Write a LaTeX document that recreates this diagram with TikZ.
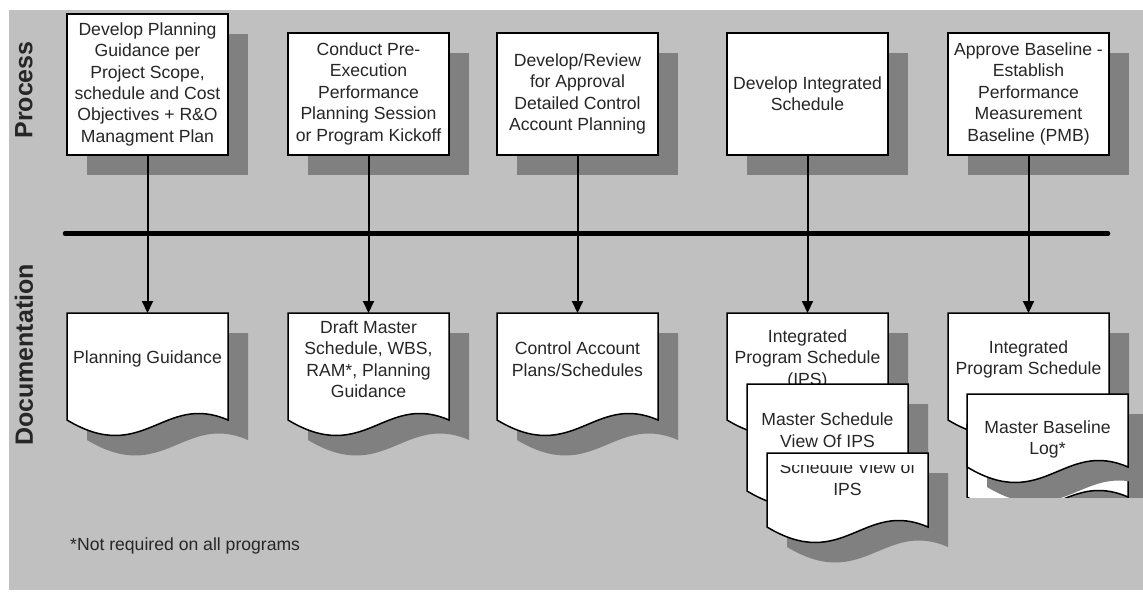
\documentclass[tikz,border=0pt]{standalone}
\usepackage{fontspec}
\setmainfont{Liberation Sans}
\usetikzlibrary{shadows,arrows.meta}

\definecolor{panelgray}{HTML}{C0C0C0}
\definecolor{shadowgray}{HTML}{808080}
\definecolor{inkgray}{HTML}{262626}

\tikzset{
  lbl/.style={font=\fontsize{17.6}{21.4}\selectfont, text=inkgray, align=center},
  procbox/.style={lbl, draw=black, line width=1.5pt, fill=white,
    minimum width=161pt, minimum height=122pt, inner sep=2pt, anchor=north,
    general shadow={fill=shadowgray, shadow xshift=20pt, shadow yshift=-20pt}},
  doctext/.style={lbl, minimum width=161pt, inner sep=2pt, anchor=north},
  sheetbody/.style={fill=white, draw=black, line width=1.5pt},
  flow/.style={draw=black, line width=2pt, -{Triangle[length=12pt,width=11pt]}},
  busline/.style={draw=black, line width=4.5pt, line cap=round},
  lane/.style={font=\fontsize{25}{30}\selectfont\bfseries, rotate=90, text=inkgray},
}

% document sheet with wavy lower edge: left x, top y, depth of the side edges
\newcommand\docsheet[3]{%
  \fill[shadowgray] ({#1+20},{#2+20}) -- ({#1+181},{#2+20}) -- ({#1+181},{#2+#3+20})
    .. controls ({#1+116.6},{#2+#3-8}) and ({#1+96.5},{#2+#3+66}) .. ({#1+20},{#2+#3+20}) -- cycle;
  \filldraw[sheetbody] ({#1},{#2}) -- ({#1+161},{#2}) -- ({#1+161},{#2+#3})
    .. controls ({#1+96.6},{#2+#3-28}) and ({#1+76.5},{#2+#3+46}) .. ({#1},{#2+#3}) -- cycle;}

\begin{document}
\begin{tikzpicture}[x=1pt,y=-1pt]
\useasboundingbox (0,0) rectangle (1143,592);
\fill[panelgray] (9,10) rectangle (1143,590);

% lane titles
\node[lane] (laneP) at (24,90) {Process};
\node[lane] (laneD) at (24,355) {Documentation};

% dividing bus between the lanes
\coordinate (busL) at (65,233.5);
\coordinate (busR) at (1108,233.5);
\draw[busline] (busL) -- (busR);

% process steps
\node[procbox, minimum height=141pt] (p1) at (147.5,13)
  {Develop Planning\\Guidance per\\Project Scope,\\schedule and Cost\\Objectives + R\&O\\Managment Plan};
\node[procbox] (p2) at (368.5,32)
  {Conduct Pre-\\Execution\\Performance\\Planning Session\\or Program Kickoff};
\node[procbox] (p3) at (577.5,32)
  {Develop/Review\\for Approval\\Detailed Control\\Account Planning};
\node[procbox] (p4) at (807.5,32)
  {Develop Integrated\\Schedule};
\node[procbox] (p5) at (1028.5,32)
  {Approve Baseline -\\Establish\\Performance\\Measurement\\Baseline (PMB)};

% documentation
\docsheet{67}{313}{107}
\node[doctext, minimum height=92pt] (d1) at (147.5,313) {Planning Guidance};
\docsheet{288}{313}{107}
\node[doctext, minimum height=92pt] (d2) at (368.5,313)
  {Draft Master\\Schedule, WBS,\\RAM*, Planning\\Guidance};
\docsheet{497}{313}{107}
\node[doctext, minimum height=92pt] (d3) at (577.5,313)
  {Control Account\\Plans/Schedules};

% integrated schedule stack
\docsheet{727}{313}{107}
\node[doctext, minimum height=92pt] (d4) at (807.5,313)
  {Integrated\\Program Schedule\\(IPS)};
\docsheet{747}{384}{107}
\node[doctext, minimum height=92pt] (d4b) at (827.5,384)
  {Master Schedule\\View Of IPS};
\docsheet{767}{453}{74}
\begin{scope}
  \clip (767,465) rectangle (928,530);
  \node[doctext, minimum height=50pt] (d4c) at (847.5,453)
    {Schedule View of\\IPS};
\end{scope}

% baseline stack
\docsheet{948}{313}{107}
\node[doctext, minimum height=92pt] (d5) at (1028.5,313)
  {Integrated\\Program Schedule};
\begin{scope}
  \clip (940,380) rectangle (1143,497);
  \docsheet{967}{424}{73}
  \docsheet{967}{394}{73}
\end{scope}
\node[doctext, minimum height=90pt] (d5b) at (1047.5,394)
  {Master Baseline\\Log*};

% flows from each step to its documentation
\draw[flow] (p1.south) -- (d1.north);
\draw[flow] (p2.south) -- (d2.north);
\draw[flow] (p3.south) -- (d3.north);
\draw[flow] (p4.south) -- (d4.north);
\draw[flow] (p5.south) -- (d5.north);

% footnote
\node[lbl, anchor=west, align=left, inner sep=0pt] (note) at (70,546)
  {*Not required on all programs};
\end{tikzpicture}
\end{document}
